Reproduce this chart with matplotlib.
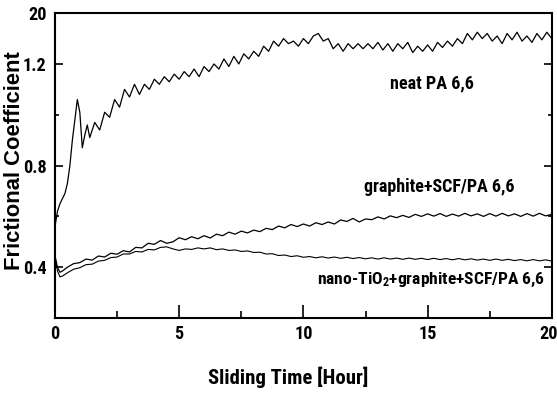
import matplotlib
matplotlib.use("Agg")
import matplotlib.pyplot as plt
from matplotlib import font_manager
from matplotlib.ticker import FixedLocator, FixedFormatter
from matplotlib.transforms import ScaledTranslation
import numpy as np

# buscar una fuente estrecha; si no hay, Liberation Sans
nombres = {f.name for f in font_manager.fontManager.ttflist}
estrecha = None
for cand in ['Liberation Sans Narrow', 'Arial Narrow', 'Roboto Condensed',
             'Open Sans Condensed', 'DejaVu Sans Condensed']:
    if cand in nombres:
        estrecha = cand
        break
if estrecha is None:
    estrecha = 'Liberation Sans'

plt.rcParams['font.family'] = [estrecha, 'DejaVu Sans']
plt.rcParams['font.weight'] = 'bold'
plt.rcParams['mathtext.default'] = 'regular'

# --- datos ---
# neat PA 6,6 : tramo inicial (tiempos irregulares) + tramo regular 1.6-20 h cada 0.2 h
neat_t_early = [0.0, 0.1, 0.2, 0.3, 0.4, 0.5, 0.6, 0.7, 0.8, 0.9, 1.0, 1.1, 1.2, 1.3, 1.4]
neat_v_early = [0.56, 0.62, 0.65, 0.67, 0.69, 0.73, 0.80, 0.90, 0.98, 1.06, 1.01, 0.87, 0.92, 0.96, 0.91]
neat_v = [0.97, 0.94, 1.01, 0.99, 1.06, 1.03, 1.10, 1.07, 1.12, 1.08,
          1.12, 1.10, 1.14, 1.12, 1.15, 1.13, 1.16, 1.14, 1.17, 1.15,
          1.18, 1.15, 1.19, 1.17, 1.20, 1.18, 1.22, 1.19, 1.23, 1.20,
          1.24, 1.22, 1.25, 1.23, 1.27, 1.25, 1.29, 1.27, 1.30, 1.28,
          1.29, 1.27, 1.30, 1.28, 1.31, 1.32, 1.29, 1.30, 1.26, 1.28,
          1.25, 1.28, 1.26, 1.28, 1.26, 1.28, 1.26, 1.285, 1.255, 1.28,
          1.25, 1.28, 1.26, 1.285, 1.245, 1.27, 1.25, 1.275, 1.25, 1.285,
          1.265, 1.29, 1.27, 1.30, 1.28, 1.32, 1.295, 1.325, 1.30, 1.32,
          1.29, 1.31, 1.28, 1.32, 1.295, 1.325, 1.29, 1.31, 1.285, 1.32,
          1.295, 1.325, 1.30]

# graphite+SCF/PA 6,6
gr_t_early = [0.0, 0.1, 0.2, 0.3, 0.5]
gr_v_early = [0.445, 0.40, 0.38, 0.385, 0.40]
gr_v = [0.414, 0.418, 0.432, 0.428, 0.444, 0.440, 0.455, 0.451, 0.465, 0.460,
        0.478, 0.476, 0.494, 0.490, 0.505, 0.494, 0.500, 0.516, 0.508, 0.520,
        0.512, 0.524, 0.515, 0.530, 0.524, 0.538, 0.530, 0.542, 0.535, 0.546,
        0.540, 0.553, 0.548, 0.562, 0.555, 0.568, 0.560, 0.570, 0.562, 0.575,
        0.568, 0.578, 0.570, 0.586, 0.580, 0.592, 0.578, 0.590, 0.587, 0.598,
        0.590, 0.602, 0.595, 0.604, 0.596, 0.608, 0.600, 0.610, 0.601, 0.611,
        0.600, 0.609, 0.601, 0.612, 0.602, 0.610, 0.600, 0.611, 0.601, 0.612,
        0.602, 0.610, 0.600, 0.611, 0.601, 0.612, 0.602, 0.608]

# nano-TiO2+graphite+SCF/PA 6,6
ti_t_early = [0.0, 0.1, 0.2, 0.3, 0.5]
ti_v_early = [0.44, 0.385, 0.362, 0.365, 0.378]
ti_v = [0.392, 0.398, 0.410, 0.412, 0.424, 0.427, 0.438, 0.440, 0.452, 0.452,
        0.462, 0.460, 0.470, 0.468, 0.478, 0.480, 0.472, 0.466, 0.472, 0.470,
        0.476, 0.472, 0.476, 0.469, 0.472, 0.466, 0.468, 0.462, 0.464, 0.458,
        0.459, 0.452, 0.453, 0.446, 0.448, 0.442, 0.445, 0.439, 0.442, 0.437,
        0.441, 0.436, 0.440, 0.435, 0.439, 0.434, 0.438, 0.433, 0.437, 0.432,
        0.437, 0.432, 0.436, 0.431, 0.436, 0.431, 0.435, 0.430, 0.435, 0.430,
        0.434, 0.429, 0.434, 0.429, 0.433, 0.428, 0.432, 0.427, 0.432, 0.427,
        0.431, 0.426, 0.430, 0.425, 0.430, 0.425, 0.429, 0.424]

y_ticks = [0.4, 0.8, 1.2, 1.4]
y_tick_labels = ['0.4', '0.8', '1.2', '20']
x_ticks = [0, 5, 10, 15, 20]

# ejes de tiempo completos
neat_t = neat_t_early + list(np.linspace(1.6, 20.0, len(neat_v)))
gr_t = gr_t_early + list(np.linspace(0.75, 20.0, len(gr_v)))
ti_t = ti_t_early + list(np.linspace(0.75, 20.0, len(ti_v)))

fig = plt.figure(figsize=(5.57, 3.99), dpi=100)
ax = fig.add_axes([0.0987, 0.203, 0.892, 0.764])

ax.plot(neat_t, neat_v_early + neat_v, color='black', lw=0.9)
ax.plot(gr_t, gr_v_early + gr_v, color='black', lw=0.9)
ax.plot(ti_t, ti_v_early + ti_v, color='black', lw=0.8)

ax.set_xlim(0, 20)
ax.set_ylim(0.2, 1.4)

ax.xaxis.set_major_locator(FixedLocator(x_ticks))
ax.xaxis.set_minor_locator(FixedLocator([2.5, 7.5, 12.5, 17.5]))
ax.yaxis.set_major_locator(FixedLocator(y_ticks))
ax.yaxis.set_major_formatter(FixedFormatter(y_tick_labels))
ax.yaxis.set_minor_locator(FixedLocator([0.6, 1.0]))

ax.tick_params(axis='x', which='major', direction='in', length=9.5, width=1.2,
               labelsize=13, pad=5)
ax.tick_params(axis='x', which='minor', direction='in', length=5, width=1.2)
ax.tick_params(axis='y', which='major', direction='in', length=6, width=1.2,
               labelsize=13, pad=6, right=True)
ax.tick_params(axis='y', which='minor', direction='in', length=3, width=1.2, right=True)

for s in ax.spines.values():
    s.set_linewidth(1.5)

xl = ax.set_xlabel('Sliding Time [Hour]', fontsize=14, fontweight='bold')
ax.xaxis.set_label_coords(0.469, -0.160)
yl = ax.set_ylabel('Frictional Coefficient', fontsize=13, fontweight='bold',
                   family=['Liberation Sans', 'DejaVu Sans'])
ax.yaxis.set_label_coords(-0.061, 0.518)

t1 = ax.text(15.19, 1.125, 'neat PA 6,6', fontsize=12, ha='center', va='center')
t2 = ax.text(15.45, 0.714, 'graphite+SCF/PA 6,6', fontsize=12, ha='center', va='center')
t3 = ax.text(15.13, 0.348, r'nano-TiO$_2$+graphite+SCF/PA 6,6', fontsize=12,
             ha='center', va='center')

# ajustar tamanos de letra al ancho medido en la figura original (px);
# la letra original es mas alta, asi que se agranda un poco
fig.canvas.draw()
rend = fig.canvas.get_renderer()


def ajustar(txt, ancho, vertical=False, extra=1.0):
    bb = txt.get_window_extent(rend)
    actual = bb.height if vertical else bb.width
    txt.set_fontsize(txt.get_fontsize() * ancho / actual * extra)


ajustar(t1, 73, extra=1.15)
ajustar(t2, 135, extra=1.12)
ajustar(t3, 207, extra=1.1)
ajustar(xl, 137, extra=1.18)
ajustar(yl, 218, vertical=True)

# etiquetas de ticks: "10" mide unos 17 px
lab10 = ax.get_xticklabels()[2]
esc = 17.0 / lab10.get_window_extent(rend).width
ax.tick_params(axis='both', which='major', labelsize=13 * esc * 1.08)

# correr un poco a la izquierda el ultimo "20" del eje x
fig.canvas.draw()
ultimo = ax.xaxis.get_major_ticks()[-1].label1
ultimo.set_transform(ultimo.get_transform() + ScaledTranslation(-0.03, 0, fig.dpi_scale_trans))

fig.savefig('out.png', dpi=100)
